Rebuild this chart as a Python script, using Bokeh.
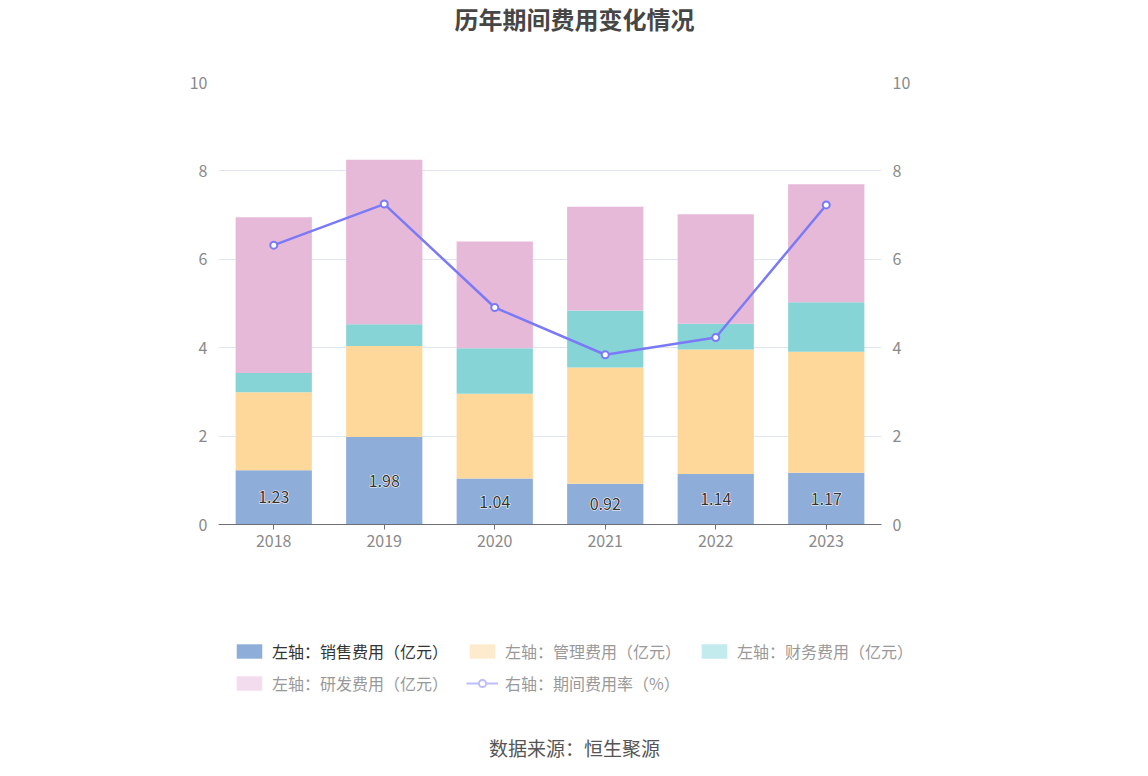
from bokeh.plotting import figure
from bokeh.layouts import column
from bokeh.models import (FactorRange, Range1d, LinearAxis, Legend, LegendItem,
                          ColumnDataSource, FixedTicker, Title)
from bokeh.embed import file_html
from bokeh.resources import INLINE
from bokeh.core.properties import value

# ---------------- data ----------------
years = ["2018", "2019", "2020", "2021", "2022", "2023"]
sales = [1.23, 1.98, 1.04, 0.92, 1.14, 1.17]      # 销售费用（亿元）
mgmt = [1.76, 2.06, 1.92, 2.63, 2.82, 2.74]       # 管理费用（亿元）
fin = [0.44, 0.49, 1.03, 1.29, 0.58, 1.12]        # 财务费用（亿元）
rd = [3.52, 3.72, 2.41, 2.35, 2.48, 2.67]         # 研发费用（亿元）
rate = [6.32, 7.25, 4.91, 3.84, 4.23, 7.23]       # 期间费用率（%）
y_ticks = [0, 2, 4, 6, 8, 10]

title_text = "历年期间费用变化情况"
source_text = "数据来源：恒生聚源"
legend_labels = ["左轴：销售费用（亿元）", "左轴：管理费用（亿元）", "左轴：财务费用（亿元）",
                 "左轴：研发费用（亿元）", "右轴：期间费用率（%）"]

# ---------------- style ----------------
FONT = "Noto Sans CJK SC"
C_SALES, C_MGMT, C_FIN, C_RD = "#8fadd9", "#fed89b", "#87d4d7", "#e7b9d8"
F_MGMT, F_FIN, F_RD = "#feebcd", "#c3eaec", "#f3dcee"
C_LINE, F_LINE = "#7a7af8", "#bdbdfb"
TICK_COLOR = "#8a8a8a"
W = 1132
LEFT_PAD = 16          # blank figures: frame starts here so centred titles sit at x≈574

src = ColumnDataSource(dict(year=years, sales=sales, mgmt=mgmt, fin=fin, rd=rd, rate=rate,
                            lab_y=[v / 2 for v in sales],
                            lab=[f"{v:.2f}" for v in sales]))


def blank_fig(h, border_bottom=0):
    f = figure(width=W, height=h, x_range=Range1d(0, 1), y_range=Range1d(0, 1),
               output_backend="svg", toolbar_location=None,
               x_axis_location=None, y_axis_location=None, frame_align=False,
               min_border_left=LEFT_PAD, min_border_right=0, min_border_top=0,
               min_border_bottom=border_bottom)
    f.outline_line_color = None
    f.xgrid.grid_line_color = None
    f.ygrid.grid_line_color = None
    return f


def add_legend(fig, label, renderers, vx, vy, color):
    lg = Legend(items=[LegendItem(label=value(label), renderers=renderers)],
                location=(vx, vy), orientation="horizontal", padding=0, margin=0,
                spacing=0, border_line_color=None, background_fill_alpha=0,
                glyph_width=32, glyph_height=18, label_standoff=7,
                label_height=20, label_text_font=FONT, label_text_font_size="16px",
                label_text_color=color)
    fig.add_layout(lg, "center")


# ---------------- title figure ----------------
top = blank_fig(60)
top.add_layout(Title(text=title_text, align="center", vertical_align="top", standoff=0,
                     text_font=FONT, text_font_size="24px", text_font_style="bold",
                     text_color="#464646"), "above")
top.scatter(x=[5], y=[5], size=0, alpha=0)

# ---------------- main chart ----------------
p = figure(width=W, height=514,
           x_range=FactorRange(*years, range_padding=0),
           y_range=Range1d(0, 10),
           output_backend="svg", toolbar_location=None, frame_align=False,
           min_border_left=218, min_border_right=W - 218 - 663,
           min_border_top=22, min_border_bottom=50)
p.outline_line_color = None

p.xaxis.axis_line_color = "#6e7079"
p.xaxis.major_tick_line_color = "#6e7079"
p.xaxis.major_tick_out = 5
p.xaxis.major_tick_in = 0
p.xaxis.minor_tick_line_color = None
p.xaxis.major_label_text_font = FONT
p.xaxis.major_label_text_font_size = "16px"
p.xaxis.major_label_text_color = TICK_COLOR
p.xaxis.major_label_standoff = 5

p.yaxis.ticker = FixedTicker(ticks=y_ticks)
p.extra_y_ranges = {"right": Range1d(0, 10)}
p.add_layout(LinearAxis(y_range_name="right", ticker=FixedTicker(ticks=y_ticks)), "right")
for ax in p.yaxis:
    ax.axis_line_color = None
    ax.major_tick_line_color = None
    ax.minor_tick_line_color = None
    ax.major_label_text_font = FONT
    ax.major_label_text_font_size = "16px"
    ax.major_label_text_color = TICK_COLOR
    ax.major_label_standoff = 5

p.xgrid.grid_line_color = None
p.ygrid.grid_line_color = "#e0e6f1"
p.ygrid.grid_line_width = 1

p.vbar_stack(["sales", "mgmt", "fin", "rd"], x="year", width=0.69, source=src,
             fill_color=[C_SALES, C_MGMT, C_FIN, C_RD], line_color=None)

# value labels: white halo underneath, dark text on top
p.text(x="year", y="lab_y", text="lab", source=src, text_align="center",
       text_baseline="middle", text_font=value(FONT), text_font_size="16px",
       text_color="white", text_outline_color="white")
p.text(x="year", y="lab_y", text="lab", source=src, text_align="center",
       text_baseline="middle", text_font=value(FONT), text_font_size="16px",
       text_color="#333333")

p.line(x="year", y="rate", source=src, y_range_name="right", line_color=C_LINE, line_width=2.5)
p.scatter(x="year", y="rate", source=src, y_range_name="right", marker="circle", size=7,
          fill_color="white", line_color=C_LINE, line_width=2)

# ---------------- legend + source figure ----------------
BB = 42
bot = blank_fig(194, border_bottom=BB)
bot.add_layout(Title(text=source_text, align="center", text_font=FONT,
                     text_font_size="19px", text_font_style="normal",
                     text_color="#555555"), "below")
OFF = dict(x=[5], y=[5])   # off-screen placeholder point for legend-only renderers
d_sales = bot.vbar(x=OFF["x"], top=OFF["y"], width=0.5, fill_color=C_SALES, line_color=None)
d_mgmt = bot.vbar(x=OFF["x"], top=OFF["y"], width=0.5, fill_color=F_MGMT, line_color=None)
d_fin = bot.vbar(x=OFF["x"], top=OFF["y"], width=0.5, fill_color=F_FIN, line_color=None)
d_rd = bot.vbar(x=OFF["x"], top=OFF["y"], width=0.5, fill_color=F_RD, line_color=None)
d_line = bot.line(x=OFF["x"], y=OFF["y"], line_color=F_LINE, line_width=2)
d_pt = bot.scatter(x=OFF["x"], y=OFF["y"], marker="circle", size=12, fill_color="white",
                   line_color=F_LINE, line_width=2)

fb = 768 - BB          # page y of the bottom figure's frame bottom
add_legend(bot, legend_labels[0], [d_sales], 233 - LEFT_PAD, fb - 663, "#333333")
add_legend(bot, legend_labels[1], [d_mgmt], 466 - LEFT_PAD, fb - 663, "#999999")
add_legend(bot, legend_labels[2], [d_fin], 698 - LEFT_PAD, fb - 663, "#999999")
add_legend(bot, legend_labels[3], [d_rd], 233 - LEFT_PAD, fb - 695, "#999999")
add_legend(bot, legend_labels[4], [d_line, d_pt], 466 - LEFT_PAD, fb - 695, "#999999")

layout = column(top, p, bot, spacing=0)
open("out.html", "w").write(file_html(layout, INLINE))
